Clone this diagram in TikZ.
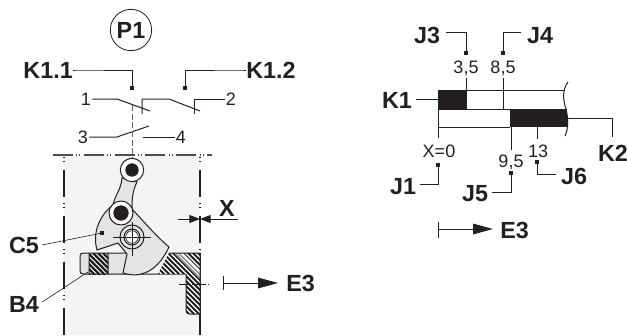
\documentclass[tikz,border=0pt]{standalone}
\usepackage{fontspec}
\setmainfont{Liberation Sans}
\usetikzlibrary{arrows.meta,calc}
\definecolor{ink}{HTML}{231F20}
\definecolor{panel}{HTML}{F4F4F4}
\definecolor{part}{HTML}{E4E4E4}
\tikzset{
  ln/.style={draw=ink,line width=0.75pt},
  thin ln/.style={draw=ink,line width=0.45pt},
  big/.style={font=\bfseries\fontsize{17.5}{17.5}\selectfont,text=ink,inner sep=0pt,text depth=0pt},
  small/.style={font=\fontsize{13.5}{13.5}\selectfont,text=ink,inner sep=0pt,text depth=0pt},
  sq/.style={fill=ink,draw=none,minimum size=3.6pt,inner sep=0pt,rectangle},
  dot/.style={fill=ink,draw=none,minimum size=2.6pt,inner sep=0pt,rectangle},
  flow/.style={ln,-{Triangle[length=15pt,width=8pt]}},
  dim/.style={ln,-{Triangle[length=8pt,width=6pt]}},
  chain/.style={draw=ink,line width=0.9pt,dash pattern=on 20.25pt off 4.5pt on 0.75pt off 2.25pt on 0.75pt off 6pt,dash phase=23.25pt},
  chainh/.style={draw=ink!80,line width=0.8pt,dash pattern=on 15pt off 2.5pt on 0.8pt off 1.5pt on 0.8pt off 2.5pt},
}
\begin{document}
\begin{tikzpicture}[x=0.75pt,y=-0.75pt]
\useasboundingbox (0,0) rectangle (627,335);
% --- left panel background
\fill[panel] (64,155) rectangle (200,335);
\draw[chainh] (53,155) -- (212,155);
\draw[chain] (64,155) -- (64,335);
\draw[chain] (200,155) -- (200,253);
\draw[ln,line width=0.9pt] (200,253) -- (200,335);
% --- P1 and contacts
\node[circle,ln,line width=0.6pt,minimum size=31pt,inner sep=0pt,font=\bfseries\fontsize{17.5}{17.5}\selectfont,text=ink] (p1) at (131,30) {P1};
\node[big,anchor=east] (k11) at (73,70) {K1.1};
\node[big,anchor=west] (k12) at (246,70) {K1.2};
\node[sq] (d11) at (132,88) {};
\node[sq] (d12) at (185,88) {};
\draw[ln] (k11.east) -- ++(3,0) -| (d11.center);
\draw[ln] (k12.west) -- ++(-4,0) -| (d12.center);
\node[small] (n1) at (86,99) {1};
\node[small] (n2) at (231,99) {2};
\node[small] (n3) at (83,137) {3};
\node[small] (n4) at (181,137) {4};
\coordinate (a1) at (117,99); \coordinate (a2) at (150,111);
\coordinate (b0) at (142,114); \coordinate (b1) at (142,99); \coordinate (b2) at (169,99); \coordinate (b3) at (200,111);
\coordinate (c0) at (194,114); \coordinate (c1) at (194,99);
\coordinate (e1) at (117,137); \coordinate (e2) at (149,126);
\coordinate (f1) at (143,137);
\draw[ln] (n1.east) ++(1,0) -- (a1) -- (a2);
\draw[ln] (b0) -- (b1) -- (b2) -- (b3);
\draw[ln] (c0) -- (c1) -- ($(n2.west)+(-1,0)$);
\draw[ln] (n3.east) ++(1,0) -- (e1) -- (e2);
\draw[ln] (f1) -- ($(n4.west)+(-1,0)$);
\draw[draw=ink!70,line width=0.7pt,dash pattern=on 4.5pt off 2pt] (132,105) -- (132,158);
% --- base plate
\path[fill=part,draw=none] (84,253) -- (128,253) -- (123,274) -- (84,274) .. controls (81,274) and (80,273) .. (80,271) -- (80,256) .. controls (80,254) and (81,253) .. (84,253) -- cycle;
\begin{scope}
\clip (89,253) rectangle (108,274);
\fill[white] (89,253) rectangle (108,274);
\foreach \d in {20,25,...,110} \draw[ink,line width=1.6pt] (\d,250) -- ++(30,30);
\end{scope}
\draw[ln] (84,253) -- (128,253) (84,274) -- (186,274)
  (84,253) .. controls (81,253) and (80,254) .. (80,256) -- (80,271) .. controls (80,273) and (81,274) .. (84,274)
  (89,253) -- (89,274) (108,253) -- (108,274);
\begin{scope}
\clip (158,274) -- (169,253) -- (200,253) -- (200,314) -- (190,314) .. controls (187,314) and (186,313) .. (186,310) -- (186,274) -- cycle;
\fill[white] (150,250) rectangle (205,320);
\foreach \d in {90,95,...,206} \draw[ink,line width=1.5pt] (\d,250) -- ++(70,70);
\fill[white] (171,250) -- (180,250) -- (210,280) -- (201,280) -- cycle;
\foreach \d in {173,176.5} \draw[ink!55,line width=0.8pt] (\d,251) -- ++(30,30);
\end{scope}
\draw[ln] (169,253) -- (200,253) -- (200,314) -- (190,314) .. controls (187,314) and (186,313) .. (186,310) -- (186,274);
\draw[thin ln,dash pattern=on 8pt off 1.5pt on 1pt off 1.5pt] (179,284) -- (208,284);
% --- linkage
\path[fill=part,ln] (122,178) .. controls (121,190) and (115,195) .. (113,205) -- (132,213) .. controls (132,200) and (132,192) .. (137,182) -- cycle;
\path[fill=part,ln] (113,205) .. controls (100,215) and (92,232) .. (97,250) -- (118,243) -- (127,254) -- (123,273) .. controls (135,277) and (155,277) .. (169,247) .. controls (156,236) and (145,223) .. (133,210) -- cycle;
\node[circle,fill=white,ln,minimum size=17.5pt,inner sep=0pt] (top) at (132,170) {};
\node[circle,fill=ink,minimum size=10pt,inner sep=0pt] (topin) at (132,170) {};
\node[circle,fill=white,ln,minimum size=18pt,inner sep=0pt] (mid) at (121,213) {};
\node[circle,fill=ink,minimum size=11.5pt,inner sep=0pt] (midin) at (121,213) {};
\node[circle,ln,minimum size=18pt,inner sep=0pt] (piv1) at (132,237) {};
\node[circle,fill=white,ln,minimum size=12pt,inner sep=0pt] (piv2) at (132,237) {};
\node[circle,ln,line width=0.5pt,minimum size=9.5pt,inner sep=0pt] (piv3) at (132,237) {};
\draw[thin ln] (113,237) -- (151,237) (132,222) -- (132,256);
% --- left labels
\node[big] (c5) at (24,245) {C5};
\node[big] (b4) at (24,304) {B4};
\node[dot] (dc5) at (102,233) {};
\coordinate (db4) at (88,272);
\draw[thin ln] (c5.east) ++(3,0) -- (dc5.center);
\draw[thin ln] (b4.east) ++(3,-2) -- (db4);
% --- X dimension
\node[big] (xl) at (227,208) {X};
\coordinate (xa) at (178,219); \coordinate (xb) at (238,219); \coordinate (xt) at (200,219);
\draw[dim] (xa) -- (xt);
\draw[dim] (xb) -- (xt);
% --- E3 left
\node[big,anchor=west] (e3a) at (286,283) {E3};
\coordinate (ta) at (223,283);
\draw[ln] (223,276) -- (223,290);
\draw[flow] (ta) -- ($(e3a.west)+(-8,0)$);
% --- right bar chart
\fill[ink] (438,90) rectangle (466,109);
\fill[ink] (510,109) rectangle (567,127);
\draw[ln] (438,90) -- (564,90) (438,109) -- (510,109) (438,127) -- (510,127) (438,90) -- (438,138);
\draw[ln] (568,82) .. controls (562,90) and (563,100) .. (566,109) .. controls (568,118) and (569,127) .. (565,136);
\node[small] (v35) at (466,67) {3,5};
\node[small] (v85) at (503,67) {8,5};
\node[small] (v0) at (439,151) {X=0};
\node[small] (v95) at (511,161) {9,5};
\node[small] (v13) at (538,151) {13};
\draw[ln] (466,78) -- (466,109) (503,78) -- (503,109) (511,109) -- (511,150) (537,127) -- (537,139);
\node[dot] (dj3) at (466,53) {};
\node[dot] (dj4) at (503,53) {};
\node[dot] (dj1) at (438,165) {};
\node[dot] (dj5) at (511,173) {};
\node[dot] (dj6) at (537,162) {};
\node[big] (j3) at (427,35) {J3};
\node[big] (j4) at (540,35) {J4};
\node[big] (j1) at (403,186) {J1};
\node[big] (j5) at (475,193) {J5};
\node[big] (j6) at (574,176) {J6};
\node[big] (k1) at (397,100) {K1};
\node[big] (k2) at (613,153) {K2};
\draw[ln] (j3.east) ++(6,-2) -| (dj3.center);
\draw[ln] (j4.west) ++(-6,-2) -| (dj4.center);
\draw[ln] (j1.east) ++(4,-2) -| (dj1.center);
\draw[ln] (j5.east) ++(4,-1) -| (dj5.center);
\draw[ln] (j6.west) ++(-5,-2) -| (dj6.center);
\coordinate (kb1) at (438,99);
\draw[ln] (k1.east) ++(4,-1) -- (kb1);
\coordinate (kb2) at (567,118);
\draw[ln] (kb2) -| (612,137);
% --- E3 right
\node[big,anchor=west] (e3b) at (500,230) {E3};
\coordinate (tb) at (438,229);
\draw[ln] (438,222) -- (438,238);
\draw[flow] (tb) -- ($(e3b.west)+(-7,-1)$);
\end{tikzpicture}
\end{document}
